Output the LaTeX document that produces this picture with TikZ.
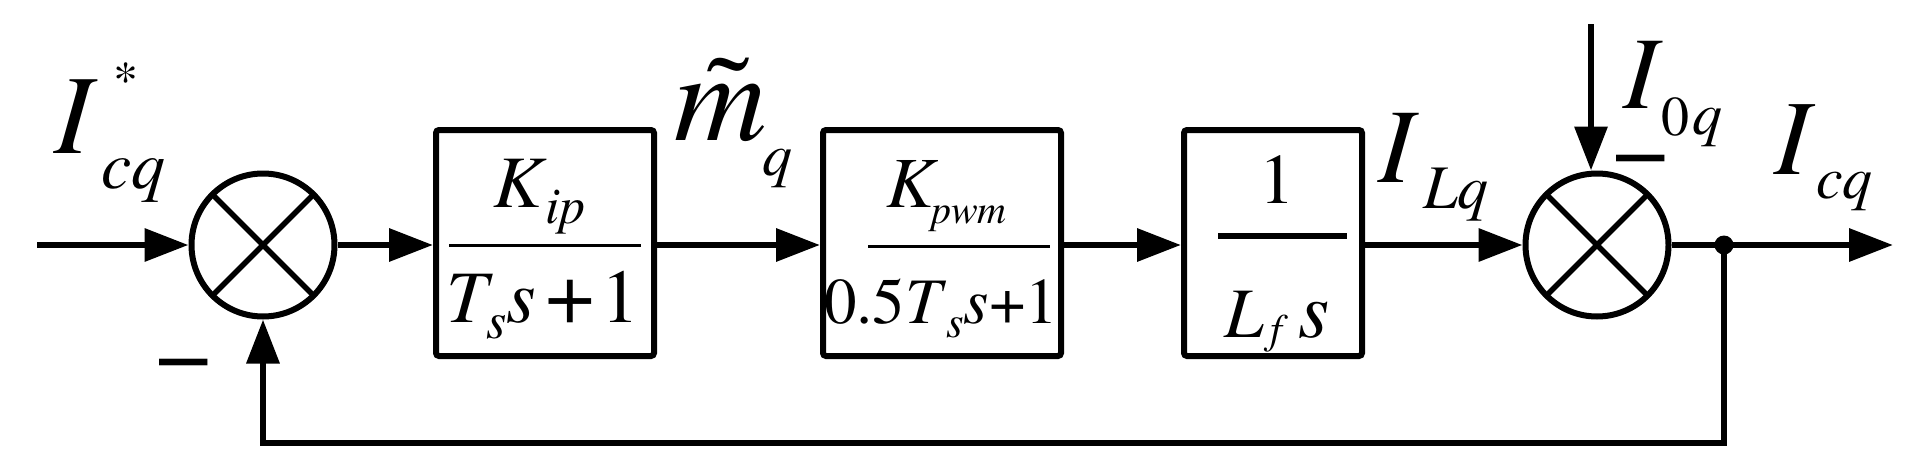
\documentclass[tikz,border=0pt]{standalone}
\usepackage{fontspec}
\setmainfont{texgyretermes}[Extension=.otf, UprightFont=*-regular, ItalicFont=*-italic, BoldFont=*-bold, BoldItalicFont=*-bolditalic]
\usetikzlibrary{arrows.meta}
\newcommand\fsz[1]{\fontsize{#1}{#1}\selectfont}
\begin{document}
\begin{tikzpicture}[x=1pt, y=-1pt,
  conn/.style={line width=6.5pt},
  arr/.style={conn, -{Triangle[length=44pt,width=32pt]}},
  blk/.style={draw, line width=6pt, rounded corners=3pt, inner sep=0pt, minimum width=#1, minimum height=226pt},
  sumnode/.style={draw, circle, line width=6pt, minimum size=143pt, inner sep=0pt},
  lbl/.style={anchor=base west, inner sep=0pt, outer sep=0pt},
  fbar/.style={line width=3pt}]
\useasboundingbox (0,0) rectangle (1915,463);
% blocks
\node[sumnode] (s1) at (263,245) {};
\node[blk=218pt] (b1) at (545,243) {};
\node[blk=238pt] (b2) at (942,243) {};
\node[blk=178pt] (b3) at (1273,243) {};
\node[sumnode] (s2) at (1597,245) {};
\coordinate (in) at (37,245);
\coordinate (out) at (1893,245);
\coordinate (i0) at (1591,24);
\coordinate (fb) at (1724,443);
% crosses
\foreach \s in {s1,s2} {
  \draw[line width=5.5pt] (\s.center) +(45:71) -- +(225:71);
  \draw[line width=5.5pt] (\s.center) +(135:71) -- +(315:71);
}
% connectors
\draw[arr] (in) -- (s1.west);
\draw[arr] (s1.east) -- (b1.west |- s1.east);
\draw[arr] (b1.east |- s1.east) -- (b2.west |- s1.east);
\draw[arr] (b2.east |- s1.east) -- (b3.west |- s1.east);
\draw[arr] (b3.east |- s1.east) -- (s2.west);
\draw[arr] (s2.east) -- (out);
\draw[arr] (i0) -- (i0 |- s2.north);
\node[circle, fill, inner sep=0pt, minimum size=19pt] (dot) at (1724,245) {};
\draw[arr] (dot.center) -- (fb) -| (s1.south);
% fraction bars
\draw[fbar] (449,245) -- (641,245);
\draw[fbar] (868,246) -- (1050,246);
\draw[line width=6pt] (1218,236) -- (1347,236);
% labels
\node[lbl, font=\fsz{113}\itshape] (tIin) at (54,153) {I};
\node[lbl, font=\fsz{50}] (tast) at (113.5,96) {*};
\node[lbl, font=\fsz{68}\itshape] (tcq) at (101,188) {cq};
\node[lbl, font=\fsz{128}\itshape] (tm) at (674,140) {\accent"02DC m};
\node[lbl, font=\fsz{60}\itshape] (tmq) at (762,175) {q};
% box 1 text
\node[lbl, font=\fsz{74}\itshape] (k1) at (493,207) {K};
\node[lbl, font=\fsz{52}\itshape] (k1s) at (545,223) {ip};
\node[lbl, font=\fsz{74}\itshape] (t1) at (446,322) {T};
\node[lbl, font=\fsz{52}\itshape] (t1s) at (486,338) {s};
\node[lbl, font=\fsz{76}\itshape] (s1t) at (506,322) {s};
\node[lbl, font=\fsz{88}] (p1) at (545,323) {+};
\node[lbl, font=\fsz{76}] (o1) at (601,322) {1};
% box 2 text
\node[lbl, font=\fsz{72}\itshape] (k2) at (886,207) {K};
\node[lbl, font=\fsz{40}\itshape] (k2s) at (931,223) {pwm};
\node[lbl, font=\fsz{65}] (d2) at (824,323) {0.5\textit{T}\raisebox{-14pt}{\fsz{45}\itshape s}\textit{s}+1};
% box 3 text
\node[lbl, font=\fsz{71}] (o3) at (1259,203) {1};
\node[lbl, font=\fsz{71}\itshape] (l3) at (1224,337) {L};
\node[lbl, font=\fsz{42}\itshape] (l3s) at (1270,343) {f};
\node[lbl, font=\fsz{80}\itshape] (s3) at (1298,337) {s};
% right labels
\node[lbl, font=\fsz{106}\itshape] (tIL) at (1378,182) {I};
\node[lbl, font=\fsz{62}\itshape] (tLq) at (1423,208) {Lq};
\node[lbl, font=\fsz{103}\itshape] (tI0) at (1623,108) {I};
\node[lbl, font=\fsz{56}] (t0) at (1661,135) {0};
\node[lbl, font=\fsz{60}\itshape] (t0q) at (1692,134) {q};
\node[lbl, font=\fsz{107}\itshape] (tIc) at (1774,174) {I};
\node[lbl, font=\fsz{60}\itshape] (tcq2) at (1816,198) {cq};
% minus signs
\node[lbl, font=\fsz{100}] (m1) at (155,387) {−};
\node[lbl, font=\fsz{100}] (m2) at (1612,183) {−};
\end{tikzpicture}
\end{document}
